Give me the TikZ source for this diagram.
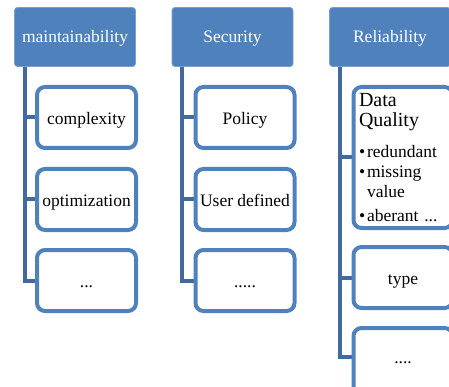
\documentclass[tikz,border=0pt]{standalone}
\usepackage{fontspec}
\setmainfont{Liberation Serif}
\usetikzlibrary{positioning,backgrounds}
\definecolor{hdr}{RGB}{79,129,189}
\definecolor{stemblue}{RGB}{66,106,158}
\tikzset{
  head/.style={fill=hdr, draw=hdr!75!white, line width=0.8pt, rounded corners=3pt,
    minimum width=121pt, minimum height=59pt, inner sep=0pt, text=white,
    text height=13pt, text depth=1pt, font=\fontsize{17.5}{20}\selectfont},
  leafbox/.style={draw=hdr, line width=4pt, fill=white, rounded corners=8pt,
    minimum width=99pt, minimum height=61pt, inner sep=0pt,
    font=\fontsize{17.5}{20}\selectfont},
  leaf/.style={leafbox, text height=14pt, text depth=0pt},
  stem/.style={draw=stemblue, line width=4pt}
}
\begin{document}
\begin{tikzpicture}[x=1pt,y=-1pt]
\useasboundingbox (0,0) rectangle (449,387);
\clip (0,0) rectangle (449,387);

\node[head] (h1) at (75,37) {maintainability};
\node[head] (h2) at (232.5,37) {Security};
\node[head] (h3) at (390,37) {Reliability};

\foreach [count = \i] \t/\y in {complexity/117.5, optimization/199.5, {...}/280.5}{
\node[leaf] (m\i) at (86.5,\y) {\t};
}
\foreach [count = \i] \t/\y in {Policy/117.5, User defined/199.5, {.....}/280.5}{
\node[leaf] (s\i) at (245,\y) {\t};
}

\node[leafbox, minimum height=141pt, text width=88pt, align=left] (r1) at (403,157.5) {%
{\fontsize{20}{20}\selectfont Data\par Quality\par}
\vspace{11pt}
{\fontsize{17.5}{20}\selectfont
\makebox[8pt][l]{\textbullet}redundant\par
\makebox[8pt][l]{\textbullet}missing\par
\hspace*{8pt}value\par
\vspace{4pt}
\makebox[8pt][l]{\textbullet}aberant ...\par}};
\node[leaf] (r2) at (403,277.5) {type};
% last box runs off the bottom edge
\node[leafbox, minimum height=80pt, text height=2pt, text depth=12pt] (r3) at (403,368) {....};

% the stems run down from each header to its boxes
\begin{scope}[on background layer]
\foreach \h/\c/\d in {h1/m/0, h2/s/0, h3/r/11}{
\coordinate (t\h) at ([xshift=10.5pt]\h.south west);
\draw[stem] (t\h) |- ([yshift=\d pt]\c3.west);
\draw[stem] (\c1.west) -- (\c1.west -| t\h);
\draw[stem] (\c2.west) -- (\c2.west -| t\h);
}
\end{scope}
\end{tikzpicture}
\end{document}
